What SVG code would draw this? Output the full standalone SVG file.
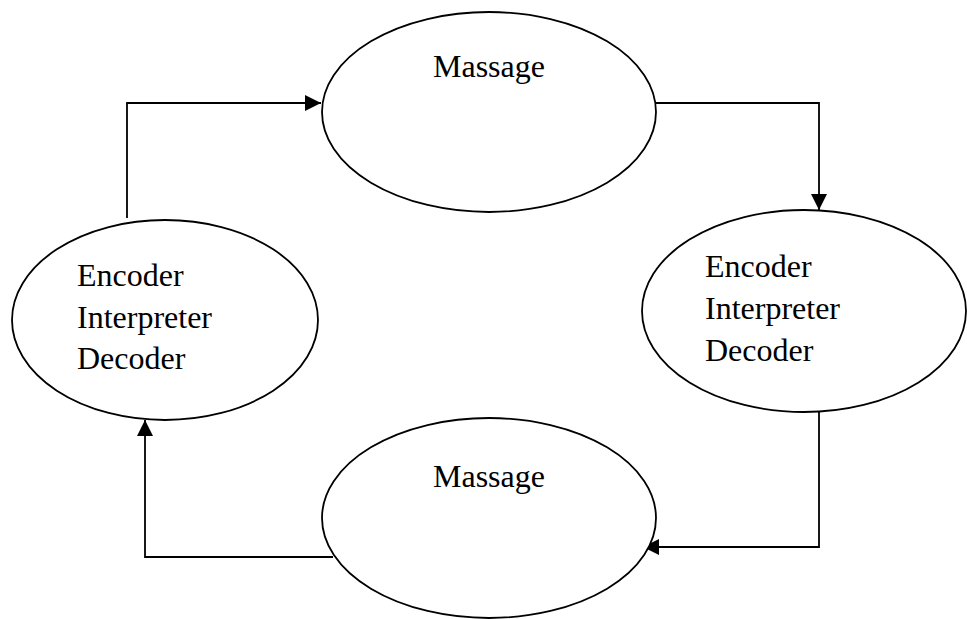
<svg xmlns="http://www.w3.org/2000/svg" width="967" height="619" viewBox="0 0 967 619">
<defs>
<marker id="ah" viewBox="0 0 16 16" refX="16" refY="8" markerWidth="16" markerHeight="16" markerUnits="userSpaceOnUse" orient="auto">
<path d="M0,0 L16,8 L0,16 Z" fill="#000"/>
</marker>
</defs>
<style>
.node{fill:#fff;stroke:#000;stroke-width:1.8}
.lbl{font-family:"Liberation Serif","Times New Roman",serif;font-size:32px;fill:#000}
.conn{fill:none;stroke:#000;stroke-width:1.8}
</style>
<rect width="967" height="619" fill="#fff"/>
<g id="connectors">
<path class="conn" d="M127,218 V103 H321" marker-end="url(#ah)"/>
<path class="conn" d="M656,103 H819 V210" marker-end="url(#ah)"/>
<path class="conn" d="M819,412 V547 H643" marker-end="url(#ah)"/>
<path class="conn" d="M333,557 H145 V420" marker-end="url(#ah)"/>
</g>
<g id="message-top">
<ellipse class="node" cx="489" cy="112" rx="167" ry="100"/>
<text class="lbl" x="433" y="77">Massage</text>
</g>
<g id="codec-right">
<ellipse class="node" cx="804" cy="311" rx="162" ry="101"/>
<text class="lbl" x="705" y="277">Encoder</text>
<text class="lbl" x="705" y="319">Interpreter</text>
<text class="lbl" x="705" y="361">Decoder</text>
</g>
<g id="message-bottom">
<ellipse class="node" cx="489" cy="518" rx="167" ry="100"/>
<text class="lbl" x="433" y="487">Massage</text>
</g>
<g id="codec-left">
<ellipse class="node" cx="165" cy="320" rx="153" ry="100"/>
<text class="lbl" x="77" y="286">Encoder</text>
<text class="lbl" x="77" y="328">Interpreter</text>
<text class="lbl" x="77" y="369">Decoder</text>
</g>
</svg>
